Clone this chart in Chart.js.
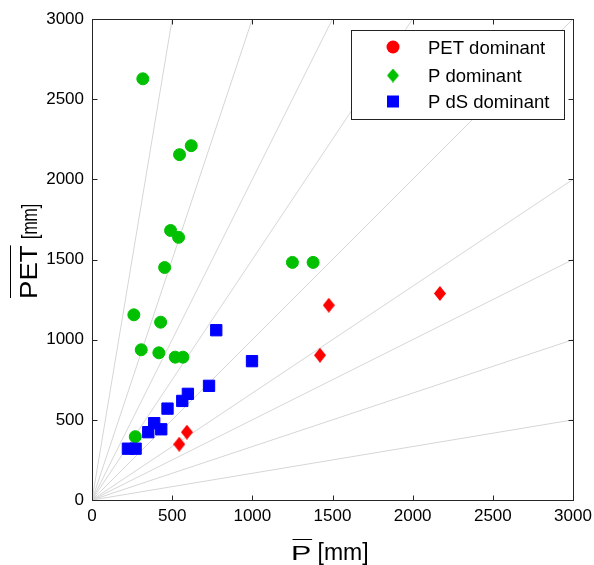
<!DOCTYPE html>
<html><head><meta charset="utf-8">
<script src="https://cdn.jsdelivr.net/npm/chart.js@4.4.1/dist/chart.umd.min.js"></script>
<style>html,body{margin:0;padding:0;background:#fff;}canvas{display:block;}</style>
</head><body>
<canvas id="c" width="594" height="565"></canvas>
<script>
// ---- data ----
const xTicks = [0, 500, 1000, 1500, 2000, 2500, 3000];
const yTicks = [0, 500, 1000, 1500, 2000, 2500, 3000];
const legendLabels = ['PET dominant', 'P dominant', 'P dS dominant'];

const petDomP   = [1477, 1422, 2170, 544, 592];
const petDomPET = [1215, 903, 1288, 348, 423];

const pDomP   = [317, 619, 546, 490, 540, 453, 261, 428, 307, 417, 519, 567, 1250, 1379, 270];
const pDomPET = [2627, 2210, 2154, 1681, 1638, 1450, 1155, 1109, 937, 918, 891, 891, 1482, 1482, 395];

const pdsDomP   = [775, 998, 730, 598, 563, 471, 388, 432, 351, 224, 272];
const pdsDomPET = [1059, 866, 712, 662, 618, 570, 479, 441, 423, 320, 320];

const guideEndP   = [500, 1000, 1500, 2000, 3000, 3000, 3000, 3000, 3000];
const guideEndPET = [3000, 3000, 3000, 3000, 3000, 2000, 1500, 1000, 500];

// ---- helpers ----
const RED = '#ff0000', GREEN = '#00c000', BLUE = '#0000ff';
const FONT = '"Liberation Sans", Arial, Helvetica, sans-serif';
function pts(xs, ys) { return xs.map((x, i) => ({ x: x, y: ys[i] })); }
function diamond(color, w, h) {
  const c = document.createElement('canvas');
  c.width = w; c.height = h;
  const g = c.getContext('2d');
  g.fillStyle = color;
  g.beginPath();
  g.moveTo(w / 2, 0); g.lineTo(w, h / 2); g.lineTo(w / 2, h); g.lineTo(0, h / 2);
  g.closePath(); g.fill();
  return c;
}
const redDiamond = diamond(RED, 12, 15);
const greenDiamondLegend = diamond(GREEN, 12, 14);

const guideSets = guideEndP.map((ex, i) => ({
  type: 'scatter',
  data: [{ x: 0, y: 0 }, { x: ex, y: guideEndPET[i] }],
  showLine: true,
  borderColor: '#d6d6d6',
  borderWidth: 1,
  pointRadius: 0,
  order: 10
}));

const datasets = guideSets.concat([
  { label: legendLabels[0], data: pts(petDomP, petDomPET), pointStyle: redDiamond,
    backgroundColor: RED, borderColor: RED, order: 2 },
  { label: legendLabels[1], data: pts(pDomP, pDomPET), pointStyle: 'circle', pointRadius: 6,
    borderWidth: 1, backgroundColor: GREEN, borderColor: GREEN, order: 3 },
  { label: legendLabels[2], data: pts(pdsDomP, pdsDomPET), pointStyle: 'rect', pointRadius: 8,
    borderWidth: 1, backgroundColor: BLUE, borderColor: BLUE, order: 1 }
]);

const deco = {
  id: 'deco',
  afterDatasetsDraw(chart) {
    const ctx = chart.ctx;
    ctx.save();
    ctx.fillStyle = '#fff';
    ctx.strokeStyle = '#222';
    ctx.lineWidth = 1;
    ctx.fillRect(351.5, 30.5, 213, 89);
    ctx.strokeRect(351.5, 30.5, 213, 89);
    const rows = [47, 75.5, 101.5];
    const mx = 393;
    ctx.fillStyle = RED;
    ctx.beginPath(); ctx.arc(mx, rows[0], 6.5, 0, Math.PI * 2); ctx.fill();
    ctx.drawImage(greenDiamondLegend, mx - 6, rows[1] - 7);
    ctx.fillStyle = BLUE;
    ctx.fillRect(mx - 6, rows[2] - 6, 12, 12);
    ctx.fillStyle = '#000';
    ctx.font = '18.5px ' + FONT;
    ctx.textAlign = 'left';
    ctx.textBaseline = 'alphabetic';
    legendLabels.forEach((t, i) => ctx.fillText(t, 428, rows[i] + 6.7));
    ctx.restore();
  },
  afterDraw(chart) {
    const ctx = chart.ctx;
    const a = chart.chartArea;
    const xs = chart.scales.x, ys = chart.scales.y;
    const L = Math.round(a.left) + 0.5, R = Math.round(a.right) + 0.5;
    const T = Math.round(a.top) + 0.5, B = Math.round(a.bottom) + 0.5;
    ctx.save();
    ctx.strokeStyle = '#262626';
    ctx.lineWidth = 1;
    ctx.strokeRect(L, T, R - L, B - T);
    ctx.beginPath();
    xTicks.forEach(v => {
      const px = Math.round(xs.getPixelForValue(v)) + 0.5;
      ctx.moveTo(px, B); ctx.lineTo(px, B - 5);
      ctx.moveTo(px, T); ctx.lineTo(px, T + 5);
    });
    yTicks.forEach(v => {
      const py = Math.round(ys.getPixelForValue(v)) + 0.5;
      ctx.moveTo(L, py); ctx.lineTo(L + 5, py);
      ctx.moveTo(R, py); ctx.lineTo(R - 5, py);
    });
    ctx.stroke();

    // x title: overline P [mm]
    ctx.fillStyle = '#000';
    ctx.strokeStyle = '#000';
    ctx.textBaseline = 'alphabetic';
    ctx.textAlign = 'left';
    ctx.font = '21px ' + FONT;
    const pw = ctx.measureText('P').width;
    ctx.save();
    ctx.translate(291, 560);
    ctx.scale(1.45, 1);
    ctx.fillText('P', 0, 0);
    ctx.restore();
    ctx.beginPath();
    ctx.moveTo(292.5, 539.5); ctx.lineTo(292.5 + pw * 1.4, 539.5);
    ctx.stroke();
    ctx.font = '23px ' + FONT;
    ctx.fillText('[mm]', 317.5, 560);

    // y title: overline PET [mm], rotated
    ctx.save();
    ctx.translate(37, 299);
    ctx.rotate(-Math.PI / 2);
    ctx.font = '23px ' + FONT;
    const pet = ctx.measureText('PET').width;
    ctx.save();
    ctx.scale(1.2, 1);
    ctx.fillText('PET', 0, 0);
    ctx.restore();
    ctx.beginPath();
    ctx.moveTo(1, -26.5); ctx.lineTo(pet * 1.2, -26.5);
    ctx.stroke();
    ctx.font = '22px ' + FONT;
    ctx.save();
    ctx.translate(60, 0);
    ctx.scale(0.72, 1);
    ctx.fillText('[mm]', 0, 0);
    ctx.restore();
    ctx.restore();
    ctx.restore();
  }
};

new Chart(document.getElementById('c'), {
  type: 'scatter',
  data: { datasets: datasets },
  options: {
    responsive: false,
    animation: false,
    devicePixelRatio: 1,
    events: [],
    layout: { padding: { left: 0, right: 21, top: 19, bottom: 0 } },
    plugins: { legend: { display: false }, tooltip: { enabled: false } },
    scales: {
      x: {
        type: 'linear', min: 0, max: 3000,
        afterBuildTicks(s) { s.ticks = xTicks.map(v => ({ value: v })); },
        afterFit(s) { s.height = 65; s.paddingRight = 0; },
        grid: { display: false, drawTicks: false },
        border: { display: false },
        ticks: { autoSkip: false, maxRotation: 0, padding: 6, color: '#000',
                 callback: v => String(v),
                 font: { family: FONT, size: 17 } }
      },
      y: {
        type: 'linear', min: 0, max: 3000,
        afterBuildTicks(s) { s.ticks = yTicks.map(v => ({ value: v })); },
        afterFit(s) { s.width = 92; },
        grid: { display: false, drawTicks: false },
        border: { display: false },
        ticks: { autoSkip: false, padding: 8, color: '#000',
                 callback: v => String(v),
                 font: { family: FONT, size: 17 } }
      }
    }
  },
  plugins: [deco]
});
</script>
</body></html>
